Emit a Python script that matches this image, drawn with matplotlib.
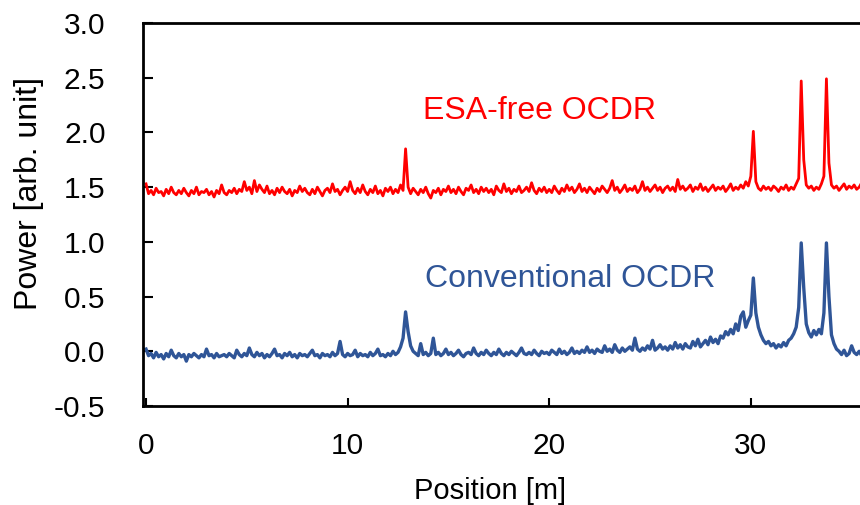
import numpy as np
import matplotlib
matplotlib.use("Agg")
import matplotlib.pyplot as plt

plt.rcParams['font.family'] = ['Liberation Sans', 'DejaVu Sans']

# position grid [m], 0.125 m steps (8 samples per metre, one row = one metre below)
position = np.arange(288) * 0.125

esa_free = [
    1.53, 1.44, 1.47, 1.43, 1.49, 1.45, 1.46, 1.42,
    1.48, 1.44, 1.50, 1.45, 1.43, 1.47, 1.44, 1.49,
    1.45, 1.42, 1.47, 1.44, 1.50, 1.43, 1.46, 1.45,
    1.48, 1.43, 1.46, 1.41, 1.47, 1.44, 1.52, 1.45,
    1.43, 1.47, 1.45, 1.49, 1.44, 1.48, 1.46, 1.55,
    1.47, 1.50, 1.44, 1.56, 1.46, 1.52, 1.48, 1.45,
    1.51, 1.44, 1.47, 1.43, 1.49, 1.45, 1.50, 1.46,
    1.44, 1.48, 1.42, 1.47, 1.45, 1.51, 1.46, 1.49,
    1.45, 1.43, 1.48, 1.44, 1.50, 1.46, 1.42, 1.47,
    1.49, 1.45, 1.53, 1.46, 1.48, 1.43, 1.47, 1.50,
    1.46, 1.55, 1.47, 1.44, 1.49, 1.45, 1.52, 1.46,
    1.43, 1.48, 1.45, 1.51, 1.44, 1.47, 1.42, 1.49,
    1.46, 1.50, 1.44, 1.48, 1.45, 1.52, 1.47, 1.85,
    1.50, 1.44, 1.49, 1.46, 1.43, 1.48, 1.45, 1.50,
    1.44, 1.40, 1.47, 1.45, 1.49, 1.43, 1.48, 1.46,
    1.51, 1.45, 1.48, 1.44, 1.50, 1.46, 1.43, 1.49,
    1.47, 1.52, 1.45, 1.48, 1.44, 1.50, 1.46, 1.49,
    1.45, 1.48, 1.43, 1.51, 1.47, 1.45, 1.53, 1.46,
    1.49, 1.44, 1.48, 1.46, 1.51, 1.45, 1.47, 1.50,
    1.46, 1.54, 1.47, 1.44, 1.49, 1.46, 1.50, 1.45,
    1.48, 1.45, 1.51, 1.47, 1.44, 1.49, 1.46, 1.52,
    1.47, 1.50, 1.45, 1.48, 1.53, 1.46, 1.49, 1.45,
    1.50, 1.47, 1.44, 1.49, 1.46, 1.51, 1.48, 1.45,
    1.49, 1.56, 1.47, 1.50, 1.45, 1.48, 1.52, 1.46,
    1.49, 1.47, 1.51, 1.45, 1.48, 1.55, 1.47, 1.50,
    1.46, 1.49, 1.52, 1.47, 1.50, 1.45, 1.49, 1.51,
    1.47, 1.50, 1.46, 1.57, 1.48, 1.51, 1.47, 1.49,
    1.52, 1.46, 1.50, 1.48, 1.53, 1.47, 1.50, 1.46,
    1.49, 1.52, 1.47, 1.50, 1.48, 1.51, 1.46, 1.49,
    1.53, 1.47, 1.50, 1.48, 1.52, 1.49, 1.55, 1.51,
    1.60, 2.01, 1.55, 1.49, 1.47, 1.51, 1.48, 1.50,
    1.47, 1.51, 1.49, 1.46, 1.50, 1.48, 1.52, 1.47,
    1.50, 1.48, 1.53, 1.58, 2.47, 1.75, 1.52, 1.49,
    1.51, 1.47, 1.50, 1.48, 1.53, 1.60, 2.49, 1.72,
    1.52, 1.49, 1.51, 1.47, 1.50, 1.53, 1.48, 1.51,
    1.49, 1.52, 1.48, 1.50, 1.54, 1.49, 1.51, 1.48,
]

conventional = [
    0.02, -0.04, -0.02, -0.06, -0.01, -0.05, -0.03, -0.07,
    -0.02, -0.05, 0.01, -0.04, -0.06, -0.02, -0.05, -0.03,
    -0.09, -0.03, -0.05, -0.02, -0.04, -0.06, -0.03, -0.05,
    0.02, -0.04, -0.03, -0.06, -0.02, -0.05, -0.04, -0.03,
    -0.05, -0.02, -0.04, -0.06, 0.01, -0.03, -0.05, -0.02,
    -0.04, 0.03, -0.03, -0.05, -0.01, -0.04, -0.02, -0.06,
    -0.03, -0.05, -0.02, 0.02, -0.04, -0.03, -0.06, -0.02,
    -0.04, -0.01, -0.05, -0.03, -0.06, -0.02, -0.04, -0.03,
    -0.05, -0.02, 0.01, -0.04, -0.03, -0.06, -0.02, -0.04,
    -0.03, -0.05, -0.01, -0.04, -0.02, 0.09, -0.03, -0.05,
    -0.02, -0.04, -0.03, 0.01, -0.05, -0.02, -0.04, -0.03,
    -0.05, -0.01, -0.04, -0.02, 0.02, -0.04, -0.03, -0.05,
    -0.02, -0.04, 0.00, -0.03, -0.01, 0.04, 0.12, 0.36,
    0.18, 0.05, 0.00, -0.02, -0.04, 0.07, -0.03, -0.01,
    -0.04, -0.02, 0.12, -0.03, -0.01, -0.04, -0.02, 0.02,
    -0.03, -0.01, -0.04, -0.02, 0.01, -0.03, -0.05, -0.02,
    -0.01, -0.03, 0.03, -0.02, -0.04, -0.01, -0.03, 0.01,
    -0.02, -0.04, -0.01, -0.03, 0.02, -0.02, -0.04, -0.01,
    -0.03, 0.00, -0.02, -0.04, -0.01, 0.03, -0.02, -0.03,
    -0.01, -0.03, 0.01, -0.02, -0.04, 0.00, -0.02, -0.01,
    -0.03, 0.01, -0.01, -0.03, 0.02, -0.02, 0.00, -0.03,
    -0.01, 0.03, -0.02, 0.00, -0.02, 0.01, -0.01, 0.04,
    -0.01, 0.01, -0.02, 0.02, 0.00, -0.01, 0.05, 0.00,
    0.02, -0.01, 0.06, 0.01, -0.01, 0.03, 0.00, 0.02,
    0.04, 0.01, 0.12, 0.02, 0.00, 0.03, 0.01, 0.05,
    0.02, 0.10, 0.01, 0.03, 0.06, 0.02, 0.04, 0.01,
    0.05, 0.02, 0.08, 0.03, 0.06, 0.02, 0.07, 0.04,
    0.03, 0.09, 0.05, 0.11, 0.04, 0.07, 0.10, 0.06,
    0.13, 0.08, 0.11, 0.07, 0.14, 0.12, 0.18, 0.15,
    0.20, 0.16, 0.25, 0.19, 0.32, 0.36, 0.22, 0.28,
    0.33, 0.67, 0.35, 0.22, 0.15, 0.10, 0.07, 0.09,
    0.05, 0.07, 0.03, 0.06, 0.04, 0.08, 0.05, 0.10,
    0.12, 0.16, 0.22, 0.40, 0.99, 0.58, 0.25, 0.17,
    0.13, 0.19, 0.15, 0.20, 0.16, 0.35, 0.99, 0.50,
    0.15, 0.07, 0.02, 0.00, -0.03, 0.01, -0.04, -0.02,
    0.05, -0.01, -0.03, 0.00, -0.04, -0.02, 0.01, -0.03,
]

y_ticks = [-0.5, 0.0, 0.5, 1.0, 1.5, 2.0, 2.5, 3.0]
x_ticks = [0, 10, 20, 30]

red = '#ff0000'
blue = '#2f5597'

fig = plt.figure(figsize=(8.6, 5.05), dpi=100)
# axes run past the right edge of the picture, like the cropped original
ax = fig.add_axes([143 / 860, 1 - 406 / 505, 774 / 860, 383 / 505])

ax.plot(position, esa_free, color=red, lw=2.0)
ax.plot(position, conventional, color=blue, lw=2.4)

ax.set_xlim(-0.15, -0.15 + 774 / 20.16)
ax.set_ylim(-0.5, 3.0)
ax.set_xticks(x_ticks)
ax.set_yticks(y_ticks)
ax.set_yticklabels([f'{v:.1f}' for v in y_ticks])

for side in ['left', 'bottom', 'top']:
    ax.spines[side].set_linewidth(2.0)
ax.spines['right'].set_visible(False)

ax.tick_params(axis='y', direction='in', length=7, width=1.5, pad=27, labelsize=21.5)
ax.tick_params(axis='x', direction='in', length=6, width=1.5, pad=19, labelsize=21.5)

ax.text(13.75, 2.12, 'ESA-free OCDR', color=red, fontsize=23, va='baseline')
ax.text(13.85, 0.59, 'Conventional OCDR', color=blue, fontsize=23, va='baseline')

ax.set_xlabel('Position [m]', fontsize=21)
ax.xaxis.set_label_coords(0.448, -0.185)
ax.set_ylabel('Power [arb. unit]', fontsize=23, va='center')
ax.yaxis.set_label_coords(-0.147, 0.556)

fig.savefig('out.png', dpi=100)
